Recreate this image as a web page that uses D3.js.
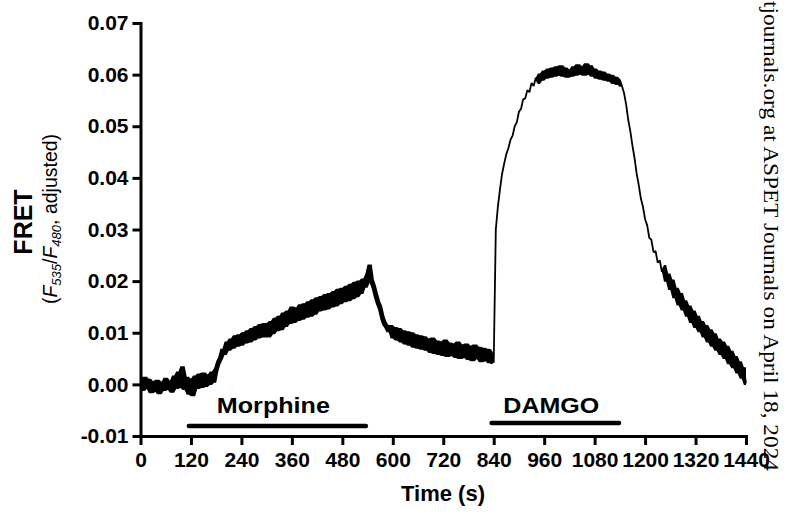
<!DOCTYPE html>
<html lang="en">
    <head>
        <meta charset="utf-8">
        <title>FRET trace</title>
        <script type="text/javascript" src="https://cdn.jsdelivr.net/npm/d3@7"></script>
        <style>
        body { margin: 0; background: #fff; }
        svg { display: block; }
        .axis path, .axis line { stroke: #000; stroke-width: 3px; }
        .axis text { font-family: "Liberation Sans", Arial, sans-serif; font-weight: bold; font-size: 21px; fill: #000; }
        </style>
    </head>
    <body>
        <script type="text/javascript">
            // sampling interval of the trace (s)
            var sampleStep = 5;

            // FRET values, in units of 0.0001, one every 5 s from 0 to 1440 s
            var fretE4 = [
                5, -10, 12, -6, 8, -14, 3, -12, 6, -16,
                2, -10, 10, -8, 4, -13, 14, -6, 22, -4,
                32, -8, 12, -17, 8, -20, 14, -6, 18, -4,
                20, -2, 16, 2, 22, 6,
                28, 42, 50, 66, 60, 80, 68, 86, 72, 92,
                76, 94, 78, 98, 82, 102, 84, 106, 88, 110,
                92, 114, 94, 116, 98,
                94, 120, 100, 126, 106, 130, 108, 136, 114, 140,
                120, 148, 122, 146, 126, 152, 128, 154, 132, 158,
                134, 162, 138, 166, 144, 168, 146, 172, 148, 174,
                152, 178, 154, 182, 158, 184, 162, 188, 164, 192,
                168, 196, 172, 198, 178, 202, 190, 212, 229,
                200, 188, 172, 158, 148, 130, 118, 112, 104,
                112, 92, 108, 88, 106, 84, 102, 80, 100, 78,
                98, 74, 94, 72, 92, 70, 90, 68, 86, 64,
                88, 62, 82, 60, 80, 58, 84, 56, 78, 58,
                76, 54, 80, 52, 74, 54, 76, 50, 72, 48,
                74, 52, 70, 46, 68, 48, 66, 44, 64, 42,
                300, 345, 378, 408, 428, 446, 458, 474, 482, 500,
                508, 528, 534, 552, 554, 570, 566, 584, 578, 594,
                584, 600, 590, 606, 594, 610, 596, 612, 598, 614,
                600, 616, 598, 612, 596, 608, 598, 614, 600, 618,
                602, 614, 600, 620, 602, 616, 598, 610, 594, 606,
                592, 604, 590, 600, 588, 598, 584, 594, 582, 590,
                578,
                564, 542, 512, 490, 462, 438, 408, 386, 360, 344,
                320, 308, 284, 280, 256, 258, 236, 240, 218, 228,
                202, 212, 186, 200, 170, 184, 156, 174, 146, 160,
                134, 150, 122, 140, 112, 130, 104, 120, 94, 112,
                84, 104, 76, 96, 68, 86, 60, 80, 52, 72,
                42, 62, 34, 52, 24, 42, 14, 30, 2
            ];

            // extra thickness of the noise band beyond the sampled extremes (units of 0.0001),
            // per time segment; null = clean, fast-changing part drawn as a plain line
            var bandStart = [0, 180, 550, 840, 945, 1145, 1245];
            var bandHalfE4 = [3, 3, 3, null, 2, null, 3];

            // drug application periods (s)
            var drugs = ["Morphine", "DAMGO"];
            var drugStart = [115, 835];
            var drugEnd = [536, 1138];

            var xTicks = [0, 120, 240, 360, 480, 600, 720, 840, 960, 1080, 1200, 1320, 1440];
            var yTicks = [-0.01, 0, 0.01, 0.02, 0.03, 0.04, 0.05, 0.06, 0.07];
            var yTickLabels = ["-0.01", "0.00", "0.01", "0.02", "0.03", "0.04", "0.05", "0.06", "0.07"];

            var w = 793;
            var h = 514;

            // each sample with the local min / max of its neighbours, so the noisy trace reads as a solid band
            var trace = fretE4.map(function(d, i) {
                var t = i * sampleStep;
                var seg = d3.bisectRight(bandStart, t) - 1;
                var s = bandHalfE4[seg];
                if (s === null) return { t: t, v: d / 10000, lo: d / 10000, hi: d / 10000 };
                var win = fretE4.slice(Math.max(0, i - 1), i + 2);
                return { t: t, v: d / 10000,
                         lo: (d3.min(win) - s) / 10000,
                         hi: (d3.max(win) + s) / 10000 };
            });

            var svg = d3.select("body")
                        .append("svg")
                        .attr("width", w)
                        .attr("height", h);

            var xScale = d3.scaleLinear()
                           .domain([0, 1440])
                           .range([140.5, 746]);

            var yScale = d3.scaleLinear()
                           .domain([-0.01, 0.07])
                           .range([436, 23]);

            // noise band + trace
            var band = d3.area()
                         .x(function(d) { return xScale(d.t); })
                         .y0(function(d) { return yScale(d.lo); })
                         .y1(function(d) { return yScale(d.hi); });

            svg.append("path")
               .datum(trace)
               .attr("d", band)
               .attr("fill", "#000");

            var line = d3.line()
                         .x(function(d) { return xScale(d.t); })
                         .y(function(d) { return yScale(d.v); });

            svg.append("path")
               .datum(trace)
               .attr("d", line)
               .attr("fill", "none")
               .attr("stroke", "#000")
               .attr("stroke-width", 1.8)
               .attr("stroke-linejoin", "bevel");

            // axes
            var xAxis = d3.axisBottom(xScale)
                          .tickValues(xTicks)
                          .tickSize(9)
                          .tickSizeOuter(0)
                          .tickFormat(d3.format("d"));

            svg.append("g")
               .attr("class", "axis x")
               .attr("transform", "translate(0," + yScale(-0.01) + ")")
               .call(xAxis);

            var yAxis = d3.axisLeft(yScale)
                          .tickValues(yTicks)
                          .tickSize(8)
                          .tickSizeOuter(0)
                          .tickPadding(4)
                          .tickFormat(function(d, i) { return yTickLabels[i]; });

            svg.append("g")
               .attr("class", "axis y")
               .attr("transform", "translate(" + xScale(0) + ",0)")
               .call(yAxis);

            svg.selectAll(".axis.x .tick text").attr("dy", null).attr("y", 31);
            svg.selectAll(".axis .domain").attr("stroke-linecap", "square");

            // drug bars
            var barY = [426, 423];
            var labelW = [113, 96];
            drugs.forEach(function(name, i) {
                svg.append("line")
                   .attr("x1", xScale(drugStart[i]))
                   .attr("x2", xScale(drugEnd[i]))
                   .attr("y1", barY[i])
                   .attr("y2", barY[i])
                   .attr("stroke", "#000")
                   .attr("stroke-width", 4.5)
                   .attr("stroke-linecap", "round");
                svg.append("text")
                   .attr("x", (xScale(drugStart[i]) + xScale(drugEnd[i])) / 2 - 4)
                   .attr("y", 413)
                   .attr("text-anchor", "middle")
                   .attr("font-family", "Liberation Sans, Arial, sans-serif")
                   .attr("font-weight", "bold")
                   .attr("font-size", "22px")
                   .attr("textLength", labelW[i])
                   .attr("lengthAdjust", "spacingAndGlyphs")
                   .text(name);
            });

            // axis titles
            svg.append("text")
               .attr("x", 443)
               .attr("y", 501)
               .attr("text-anchor", "middle")
               .attr("font-family", "Liberation Sans, Arial, sans-serif")
               .attr("font-weight", "bold")
               .attr("font-size", "22px")
               .text("Time (s)");

            svg.append("text")
               .attr("transform", "translate(32,222) rotate(-90)")
               .attr("text-anchor", "middle")
               .attr("font-family", "Liberation Sans, Arial, sans-serif")
               .attr("font-weight", "bold")
               .attr("font-size", "25px")
               .text("FRET");

            var sub = svg.append("text")
               .attr("transform", "translate(57,219) rotate(-90)")
               .attr("text-anchor", "middle")
               .attr("font-family", "Liberation Sans, Arial, sans-serif")
               .attr("font-size", "19.5px");
            sub.append("tspan").text("(");
            sub.append("tspan").attr("font-style", "italic").text("F");
            sub.append("tspan").attr("font-style", "italic").attr("font-size", "13px").attr("dy", 4).text("535");
            sub.append("tspan").attr("dy", -4).text("/");
            sub.append("tspan").attr("font-style", "italic").text("F");
            sub.append("tspan").attr("font-style", "italic").attr("font-size", "13px").attr("dy", 4).text("480");
            sub.append("tspan").attr("dy", -4).text(",  adjusted)");

            // side watermark (visible part)
            svg.append("text")
               .attr("transform", "translate(764,1) rotate(90)")
               .attr("text-anchor", "start")
               .attr("font-family", "Liberation Serif, Times New Roman, serif")
               .attr("font-size", "21px")
               .attr("textLength", 470)
               .attr("lengthAdjust", "spacingAndGlyphs")
               .text("tjournals.org at ASPET Journals on April 18, 2024");
        </script>
    </body>
</html>
